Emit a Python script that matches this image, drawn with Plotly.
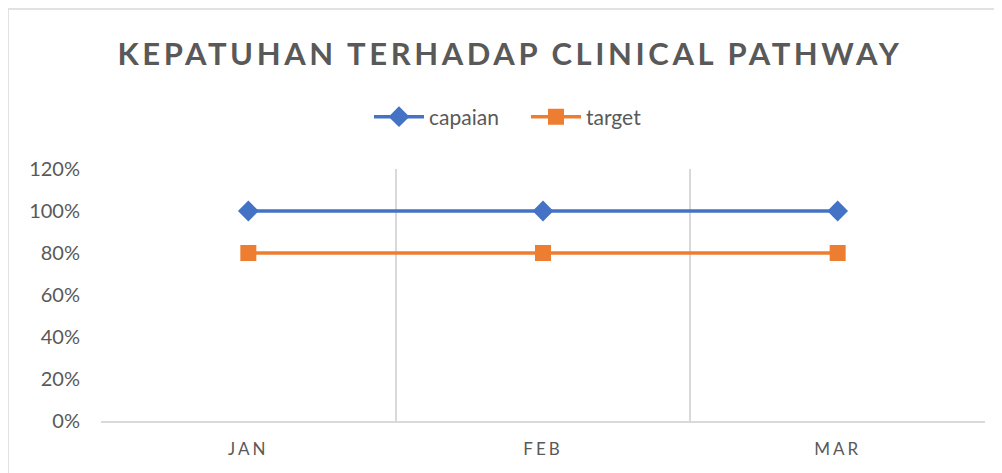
import plotly.graph_objects as go

months = ["JAN", "FEB", "MAR"]
capaian = [1.0, 1.0, 1.0]
target = [0.8, 0.8, 0.8]
y_ticks = [0, 0.2, 0.4, 0.6, 0.8, 1.0, 1.2]
title_text = "KEPATUHAN TERHADAP CLINICAL PATHWAY"

# page is drawn with an 8px body offset; positions below are screen px
OFF = 8
W, H = 1002, 473
pl, pt, pr, pb = 101, 169, 985, 421          # plot area on screen
L, T = pl - OFF, pt - OFF
R, B = W - (pr - OFF), H - (pb - OFF)
pw, ph = pr - pl, pb - pt

def px_x(sx):
    return (sx - pl) / pw

def px_y(sy):
    return (pb - sy) / ph

fig = go.Figure()
fig.add_trace(go.Scatter(
    x=months, y=capaian, name="capaian", mode="lines+markers",
    line=dict(color="#4472C4", width=3.5),
    marker=dict(symbol="diamond", size=16, color="#4472C4"),
))
fig.add_trace(go.Scatter(
    x=months, y=target, name="target", mode="lines+markers",
    line=dict(color="#ED7D31", width=3.5),
    marker=dict(symbol="square", size=16, color="#ED7D31"),
))

grey = "#595959"
fig.update_layout(
    width=W, height=H,
    margin=dict(l=L, r=R, t=T, b=B, autoexpand=False),
    paper_bgcolor="white", plot_bgcolor="white",
    font=dict(family="Lato, Open Sans, sans-serif", color=grey),
    title=dict(
        text=f"<span style='letter-spacing:3.6px'><b>{title_text}</b></span>",
        x=(510 - OFF) / W, xref="container", xanchor="center",
        y=(H - (54 - OFF)) / H, yref="container", yanchor="middle",
        font=dict(size=31, color=grey, family="Lato, sans-serif"),
    ),
    legend=dict(
        orientation="h", x=(526 - OFF) / W, xanchor="center", xref="container",
        y=(H - (117 - OFF)) / H, yref="container", yanchor="middle",
        font=dict(size=21, color=grey),
        itemwidth=50, traceorder="normal",
        entrywidth=92, entrywidthmode="pixels",
    ),
    showlegend=True,
    shapes=[dict(
        type="rect", xref="paper", yref="paper",
        x0=px_x(8), x1=px_x(W + 20),
        y0=px_y(H + 20), y1=px_y(9),
        line=dict(color="#d9d9d9", width=1.5), fillcolor="rgba(0,0,0,0)", layer="below",
    )],
)

fig.update_xaxes(
    type="category", range=[-0.5, 2.5], automargin=False,
    tickson="boundaries", showgrid=True, gridcolor="#d9d9d9", gridwidth=1.5,
    showline=True, linecolor="#d9d9d9", linewidth=1.5,
    tickvals=months,
    ticktext=[f"<span style='letter-spacing:3px'>{m}</span>" for m in months],
    ticks="", tickfont=dict(size=17, color=grey, family="Lato, sans-serif"),
    ticklabelstandoff=12,
)
fig.update_yaxes(
    range=[0, 1.2], tickvals=y_ticks, tickformat=".0%", automargin=False,
    showgrid=False, zeroline=False, showline=False,
    ticks="", tickfont=dict(size=20, color=grey),
    ticklabelstandoff=20,
)

fig.write_html("out.html")
